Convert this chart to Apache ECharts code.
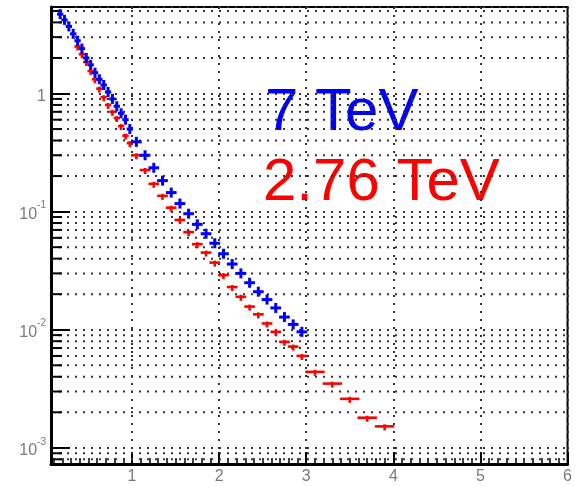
<!DOCTYPE html>
<html>
<head>
<meta charset="utf-8">
<script src="https://cdn.jsdelivr.net/npm/echarts@6/dist/echarts.min.js"></script>
<style>html,body{margin:0;padding:0;background:#fff;}#c{width:575px;height:486px;}</style>
</head>
<body>
<div id="c"></div>
<script>
// ---- data ----
const blueX = [0.175,0.225,0.275,0.325,0.375,0.425,0.475,0.525,0.575,0.625,0.675,0.725,0.775,0.825,0.875,0.925,0.975,
  1.05,1.15,1.25,1.35,1.45,1.55,1.65,1.75,1.85,1.95,2.05,2.15,2.25,2.35,2.45,2.55,2.65,2.75,2.85,2.95];
const blueY = [4.7,4.2,3.7,3.2,2.8,2.4,2.0,1.75,1.5,1.32,1.18,1.03,0.9,0.78,0.68,0.6,0.5,
  0.39,0.3,0.235,0.183,0.145,0.117,0.096,0.078,0.065,0.054,0.044,0.036,0.030,0.025,0.021,0.018,0.0153,0.0128,0.0111,0.0096];
const blueW = [0.05,0.05,0.05,0.05,0.05,0.05,0.05,0.05,0.05,0.05,0.05,0.05,0.05,0.05,0.05,0.05,0.05,
  0.1,0.1,0.1,0.1,0.1,0.1,0.1,0.1,0.1,0.1,0.1,0.1,0.1,0.1,0.1,0.1,0.1,0.1,0.1,0.1];

const redX = [0.375,0.425,0.475,0.525,0.575,0.625,0.675,0.725,0.775,0.825,0.875,0.925,0.975,
  1.05,1.15,1.25,1.35,1.45,1.55,1.65,1.75,1.85,1.95,2.05,2.15,2.25,2.35,2.45,2.55,2.65,2.75,2.85,2.95,
  3.1,3.3,3.5,3.7,3.9];
const redY = [2.5,2.15,1.85,1.55,1.32,1.1,0.93,0.8,0.7,0.62,0.53,0.44,0.38,
  0.3,0.225,0.172,0.136,0.108,0.085,0.067,0.053,0.045,0.037,0.029,0.023,0.019,0.0157,0.0135,0.0113,0.0096,0.0079,0.0072,0.006,
  0.0044,0.0035,0.0026,0.0018,0.00152];
const redW = [0.05,0.05,0.05,0.05,0.05,0.05,0.05,0.05,0.05,0.05,0.05,0.05,0.05,
  0.1,0.1,0.1,0.1,0.1,0.1,0.1,0.1,0.1,0.1,0.1,0.1,0.1,0.1,0.1,0.1,0.1,0.1,0.1,0.1,
  0.2,0.2,0.2,0.2,0.2];

const xTickLabels = ['1','2','3','4','5','6'];
const labelBlue = '7 TeV';
const labelRed = '2.76 TeV';

// ---- axis ranges ----
const xMin = 0.07, xMax = 6;
const yMin = 7.3e-4, yMax = 5.4;

// minor log grid values (2..9 x 10^k)
const yMinor = [];
for (let k = -4; k <= 0; k++) {
  for (let m = 2; m <= 9; m++) {
    const v = m * Math.pow(10, k);
    if (v > yMin && v < yMax) yMinor.push([v]);
  }
}

const gridColor = '#333';
const dotted = [2, 6];
const labelColor = '#7a7a7a';

function errRenderer(color, lw, up, down) {
  return function (params, api) {
    const x = api.value(0), y = api.value(1), w = api.value(2);
    const c = api.coord([x, y]);
    const l = api.coord([x - w / 2, y]);
    const r = api.coord([x + w / 2, y]);
    return {
      type: 'group',
      children: [
        { type: 'line', shape: { x1: l[0] - 1, y1: c[1], x2: r[0] + 1, y2: c[1] }, style: { stroke: color, lineWidth: lw } },
        { type: 'line', shape: { x1: c[0], y1: c[1] - up, x2: c[0], y2: c[1] + down }, style: { stroke: color, lineWidth: lw } }
      ]
    };
  };
}

const chart = echarts.init(document.getElementById('c'), null, { renderer: 'canvas' });
chart.setOption({
  animation: false,
  backgroundColor: '#fff',
  grid: { left: 51, top: 7, right: 2, bottom: 22, show: true, borderColor: '#000', borderWidth: 2, backgroundColor: 'transparent' },
  xAxis: {
    type: 'value', min: xMin, max: xMax,
    axisLine: { show: true, lineStyle: { color: '#000', width: 3 } },
    axisTick: { show: true, inside: true, length: 12, lineStyle: { color: '#000', width: 2 } },
    minorTick: { show: true, splitNumber: 10, length: 6, lineStyle: { color: '#000', width: 1.5 } },
    splitLine: { show: true, lineStyle: { color: gridColor, width: 2, type: dotted } },
    axisLabel: {
      color: labelColor, fontSize: 16, fontFamily: 'Liberation Sans, Arial, sans-serif', margin: 5,
      showMinLabel: false,
      formatter: function (v) {
        const s = String(Math.round(v));
        return (Math.abs(v - Math.round(v)) < 1e-6 && xTickLabels.indexOf(s) >= 0) ? s : '';
      }
    }
  },
  yAxis: {
    type: 'log', min: yMin, max: yMax, logBase: 10,
    axisLine: { show: true, lineStyle: { color: '#000', width: 3 } },
    axisTick: { show: true, inside: true, length: 19, lineStyle: { color: '#000', width: 2 } },
    splitLine: { show: true, lineStyle: { color: gridColor, width: 2, type: dotted } },
    axisLabel: {
      color: labelColor, fontFamily: 'Liberation Sans, Arial, sans-serif', margin: 5,
      formatter: function (v) {
        const l = Math.log10(v);
        const e = Math.round(l);
        if (Math.abs(l - e) > 1e-6) return '';
        if (e === 0) return '{b|1}';
        return '{b|10}{s|' + e + '}';
      },
      rich: {
        b: { fontSize: 16, color: labelColor, fontFamily: 'Liberation Sans, Arial, sans-serif', lineHeight: 22, verticalAlign: 'bottom' },
        s: { fontSize: 10, color: labelColor, fontFamily: 'Liberation Sans, Arial, sans-serif', lineHeight: 22, verticalAlign: 'top' }
      }
    }
  },
  series: [
    {
      type: 'custom', name: 'minorGrid', silent: true, z: 1,
      data: yMinor,
      encode: { y: 0 },
      renderItem: function (params, api) {
        const cs = params.coordSys;
        const y = api.coord([xMin, api.value(0)])[1];
        return {
          type: 'group',
          children: [
            { type: 'line', shape: { x1: cs.x, y1: y, x2: cs.x + cs.width, y2: y }, style: { stroke: gridColor, lineWidth: 2, lineDash: dotted } },
            { type: 'line', shape: { x1: cs.x, y1: y, x2: cs.x + 11, y2: y }, style: { stroke: '#000', lineWidth: 2 } }
          ]
        };
      }
    },
    {
      type: 'custom', name: labelRed, z: 3,
      data: redX.map((x, i) => [x, redY[i], redW[i]]),
      encode: { x: 0, y: 1 },
      renderItem: errRenderer('#ff0000', 2.6, 2, 4)
    },
    {
      type: 'custom', name: labelBlue, z: 4,
      data: blueX.map((x, i) => [x, blueY[i], blueW[i]]),
      encode: { x: 0, y: 1 },
      renderItem: errRenderer('#0000ff', 3, 5, 5)
    }
  ],
  graphic: [
    { type: 'text', left: 265, top: 83, style: { text: labelBlue, fill: '#0000ff', font: '60px "Liberation Sans", Arial, sans-serif' } },
    { type: 'text', left: 263, top: 153, style: { text: labelRed, fill: '#ff0000', font: '60px "Liberation Sans", Arial, sans-serif' } }
  ]
});
</script>
</body>
</html>
